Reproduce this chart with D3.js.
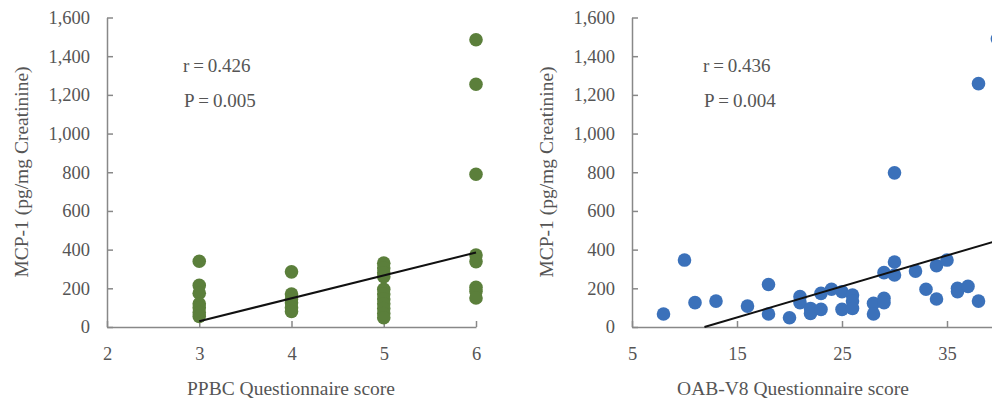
<!DOCTYPE html>
<html><head><meta charset="utf-8">
<script src="https://cdn.jsdelivr.net/npm/d3@7/dist/d3.min.js"></script>
<style>
html,body{margin:0;padding:0;background:#fff;}
svg text{font-family:"Liberation Serif","Times New Roman",serif;fill:#555;}
</style></head>
<body>
<svg id="chart" width="992" height="401"></svg>
<script>
// ---- Data ----
const yTicks = [0, 200, 400, 600, 800, 1000, 1200, 1400, 1600];
const ppbcTicks = [2, 3, 4, 5, 6];
const oabTicks = [5, 15, 25, 35];

const ppbcScore = [3,3,3,3,3,3,3, 4,4,4,4,4,4, 5,5,5,5,5,5,5,5,5,5,5, 6,6,6,6,6,6,6,6];
const ppbcMCP   = [340,215,175,120,100,75,55, 285,170,145,125,100,80, 330,305,280,260,195,170,145,120,95,70,48, 1485,1255,790,372,338,205,185,150];
const ppbcFit = [[3, 30], [6, 385]];

const oabScore = [8,10,11,13,16,18,18,20,21,21,22,22,23,23,24,25,25,26,26,26,28,28,29,29,29,30,30,30,32,33,34,34,35,36,36,37,38,38,39.8];
const oabMCP   = [67,346,126,134,108,220,67,48,157,126,96,70,174,91,195,182,91,165,134,96,122,67,281,148,126,797,336,269,289,195,317,145,346,200,183,210,1258,134,1490];
const oabFit = [[11.9, 0], [45, 530]];

const panels = [
  {x0:107, x1:476, domain:[2,6], ticks:ppbcTicks, xs:ppbcScore, ys:ppbcMCP, fit:ppbcFit,
   color:"#5b7f3b", xlabel:"PPBC Questionnaire score", xlabelX:291, ylabelX:22,
   r:"r\u2009=\u20090.426", p:"P\u2009=\u20090.005", textX:183},
  {x0:632, x1:1052, domain:[5,45], ticks:oabTicks, xs:oabScore, ys:oabMCP, fit:oabFit,
   color:"#3b71ba", xlabel:"OAB-V8 Questionnaire score", xlabelX:793, ylabelX:547,
   r:"r\u2009=\u20090.436", p:"P\u2009=\u20090.004", textX:703}
];

const svg = d3.select("#chart");
const y = d3.scaleLinear().domain([0,1600]).range([327, 17.5]);
const axisColor = "#888";

panels.forEach(pn => {
  const x = d3.scaleLinear().domain(pn.domain).range([pn.x0, pn.x1]);
  const g = svg.append("g");

  // y axis
  const ya = g.append("g").attr("transform", `translate(${pn.x0},0)`)
    .call(d3.axisLeft(y).tickValues(yTicks).tickFormat(d3.format(",")).tickSizeInner(-6).tickSizeOuter(0).tickPadding(17));
  ya.select(".domain").attr("stroke", axisColor).attr("stroke-width", 1.5);
  ya.selectAll(".tick line").attr("stroke", axisColor).attr("stroke-width", 1.5);
  ya.selectAll(".tick text").attr("font-size", 18.5).attr("fill", "#555").attr("font-family", "Liberation Serif");

  // x axis
  const xa = g.append("g").attr("transform", `translate(0,327)`)
    .call(d3.axisBottom(x).tickValues(pn.ticks).tickFormat(d3.format("d")).tickSizeInner(-6).tickSizeOuter(0).tickPadding(20));
  xa.select(".domain").attr("stroke", axisColor).attr("stroke-width", 1.5);
  xa.selectAll(".tick line").attr("stroke", axisColor).attr("stroke-width", 1.5);
  xa.selectAll(".tick text").attr("font-size", 18.5).attr("fill", "#555").attr("font-family", "Liberation Serif");

  // points
  g.append("g").selectAll("circle").data(pn.xs.map((v,i)=>[v, pn.ys[i]])).join("circle")
    .attr("cx", d => x(d[0])).attr("cy", d => y(d[1])).attr("r", 6.8).attr("fill", pn.color);

  // regression line
  g.append("path").datum(pn.fit)
    .attr("d", d3.line().x(d => x(d[0])).y(d => y(d[1])))
    .attr("stroke", "#111").attr("stroke-width", 2).attr("fill", "none");

  // labels
  g.append("text").attr("x", pn.xlabelX).attr("y", 395).attr("text-anchor", "middle")
    .attr("font-size", 19.5).text(pn.xlabel);
  g.append("text").attr("transform", `translate(${pn.ylabelX + 6},172) rotate(-90)`)
    .attr("text-anchor", "middle").attr("font-size", 19.5).text("MCP-1 (pg/mg Creatinine)");
  g.append("text").attr("x", pn.textX).attr("y", 72).attr("font-size", 19).text(pn.r);
  g.append("text").attr("x", pn.textX + 1).attr("y", 107).attr("font-size", 19).text(pn.p);
});
</script>
</body></html>
